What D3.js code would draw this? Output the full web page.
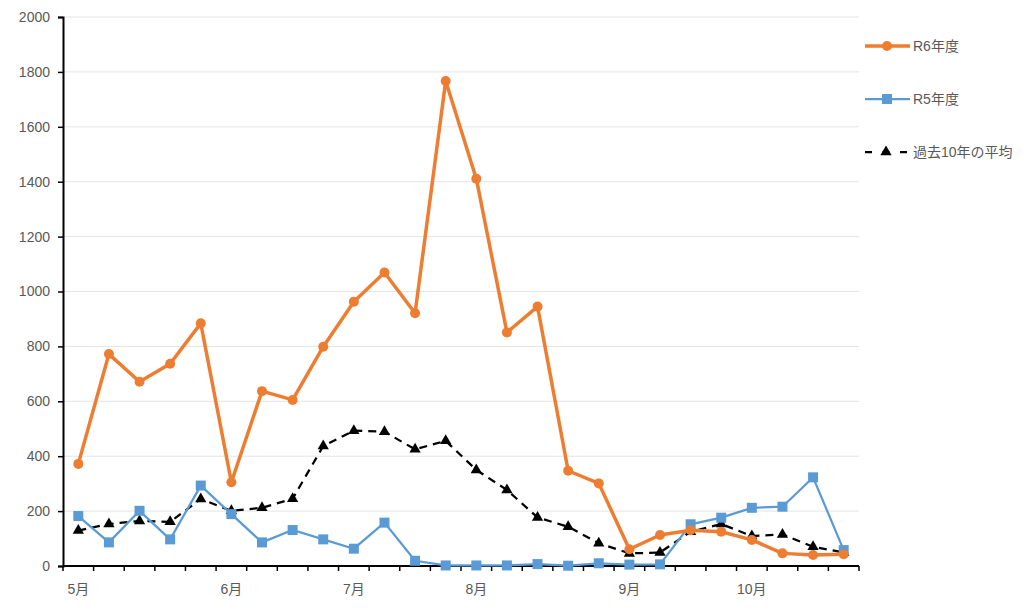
<!DOCTYPE html>
<html><head><meta charset="utf-8">
<script src="https://cdn.jsdelivr.net/npm/d3@7"></script>
<style>body{margin:0;background:#fff;}svg{display:block;}</style>
</head><body>
<svg id="c" width="1024" height="610"></svg>
<script>
const categories = d3.range(26);
const monthLabels = ["5月","","","","","6月","","","","7月","","","","8月","","","","","9月","","","","10月","","",""];
const r6 = [372,772,671,737,884,305,637,605,799,963,1069,921,1767,1411,851,945,347,301,61,113,130,125,95,46,40,43];
const r5 = [182,86,201,97,293,189,86,131,97,63,158,19,2,2,2,7,1,10,5,6,152,176,212,216,323,58];
const avg10 = [129,153,164,161,244,201,212,245,437,493,489,425,456,350,277,177,143,83,46,49,125,153,109,115,70,49];
const yTicks = [0,200,400,600,800,1000,1200,1400,1600,1800,2000];
const seriesNames = ["R6年度","R5年度","過去10年の平均"];

const svg = d3.select("#c");
const font = "'Liberation Sans', 'Noto Sans CJK JP', sans-serif";
const L = 63, R = 859, T = 17, B = 566;
const x = d3.scaleBand().domain(categories).range([L, R]);
const y = d3.scaleLinear().domain([0, 2000]).range([B, T]);
const cx = i => x(i) + x.bandwidth()/2;

// gridlines
svg.append("g").selectAll("line").data(yTicks.filter(d=>d>0)).join("line")
  .attr("x1", L).attr("x2", R).attr("y1", d=>y(d)).attr("y2", d=>y(d))
  .attr("stroke", "#e4e4e4").attr("stroke-width", 1);

// y axis
const ya = svg.append("g").attr("transform", `translate(${L},0)`)
  .call(d3.axisLeft(y).tickValues(yTicks).tickSize(5).tickPadding(8).tickFormat(d3.format("d")));
ya.select(".domain").attr("stroke", "#000").attr("stroke-width", 2);
ya.selectAll(".tick line").attr("stroke", "#000").attr("stroke-width", 1.5);
ya.selectAll("text").attr("font-family", font).attr("font-size", 14).attr("fill", "#595959");

// x axis: tick marks between categories
const xa = svg.append("g").attr("transform", `translate(0,${B})`);
xa.append("line").attr("x1", L).attr("x2", R).attr("stroke", "#000").attr("stroke-width", 2);
const edges = categories.map(i => x(i)).concat([R]);
xa.selectAll("line.tk").data(edges).join("line").attr("class","tk")
  .attr("x1", d=>d).attr("x2", d=>d).attr("y1", 0).attr("y2", 5)
  .attr("stroke", "#000").attr("stroke-width", 1.5);
xa.selectAll("text").data(categories.filter(i=>monthLabels[i])).join("text")
  .attr("x", i=>cx(i)).attr("y", 28).attr("text-anchor","middle")
  .attr("font-family", font).attr("font-size", 14).attr("fill", "#595959")
  .text(i=>monthLabels[i]);

const line = d3.line().x((d,i)=>cx(i)).y(d=>y(d));

// avg dashed
svg.append("path").datum(avg10).attr("d", line).attr("fill","none")
  .attr("stroke","#000").attr("stroke-width",2.25).attr("stroke-dasharray","8,6");
const tri = d3.symbol().type(d3.symbolTriangle).size(55);
svg.append("g").selectAll("path").data(avg10).join("path")
  .attr("d", tri).attr("transform",(d,i)=>`translate(${cx(i)},${y(d)})`).attr("fill","#000");

// R5 blue
svg.append("path").datum(r5).attr("d", line).attr("fill","none")
  .attr("stroke","#5B9BD5").attr("stroke-width",2.25);
svg.append("g").selectAll("rect").data(r5).join("rect")
  .attr("x",(d,i)=>cx(i)-5).attr("y",d=>y(d)-5).attr("width",10).attr("height",10)
  .attr("fill","#5B9BD5");

// R6 orange
svg.append("path").datum(r6).attr("d", line).attr("fill","none")
  .attr("stroke","#ED7D31").attr("stroke-width",3.5).attr("stroke-linejoin","round");
svg.append("g").selectAll("circle").data(r6).join("circle")
  .attr("cx",(d,i)=>cx(i)).attr("cy",d=>y(d)).attr("r",5).attr("fill","#ED7D31");

// legend
const lg = svg.append("g");
const ly = [46, 99, 152];
lg.append("line").attr("x1",865).attr("x2",910).attr("y1",ly[0]).attr("y2",ly[0]).attr("stroke","#ED7D31").attr("stroke-width",3.5);
lg.append("circle").attr("cx",887).attr("cy",ly[0]).attr("r",5).attr("fill","#ED7D31");
lg.append("line").attr("x1",865).attr("x2",910).attr("y1",ly[1]).attr("y2",ly[1]).attr("stroke","#5B9BD5").attr("stroke-width",2.25);
lg.append("rect").attr("x",882).attr("y",ly[1]-5).attr("width",10).attr("height",10).attr("fill","#5B9BD5");
lg.append("line").attr("x1",865).attr("x2",908).attr("y1",ly[2]).attr("y2",ly[2]).attr("stroke","#000").attr("stroke-width",2.25).attr("stroke-dasharray","7,10.5");
lg.append("path").attr("d",tri).attr("transform",`translate(${886},${ly[2]})`).attr("fill","#000");
lg.selectAll("text").data(seriesNames).join("text")
  .attr("x",913).attr("y",(d,i)=>ly[i]+5)
  .attr("font-family",font).attr("font-size",14).attr("fill","#595959").text(d=>d);
</script>
</body></html>
